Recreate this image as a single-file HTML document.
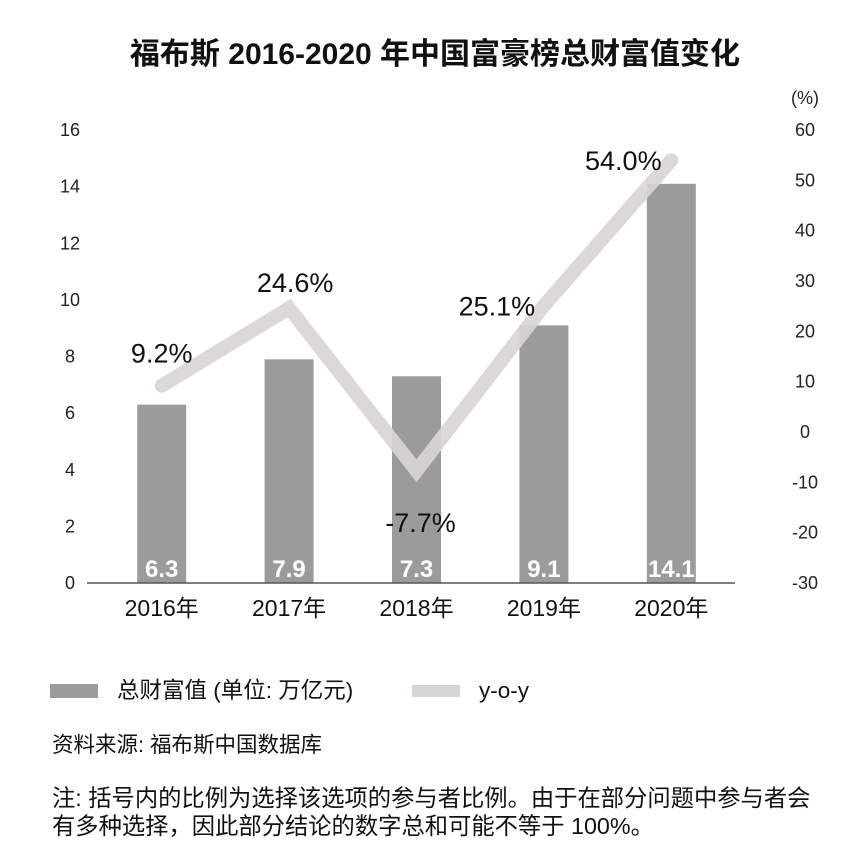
<!DOCTYPE html>
<html><head><meta charset="utf-8"><style>
body{margin:0;background:#fff;width:856px;height:850px;overflow:hidden;font-family:"Liberation Sans","Noto Sans CJK SC",sans-serif;}
</style></head><body>
<svg width="856" height="850" id="c" font-family="Liberation Sans, Noto Sans CJK SC, sans-serif">
<text x="435" y="64" text-anchor="middle" font-size="30" font-weight="bold" fill="#111">福布斯 2016-2020 年中国富豪榜总财富值变化</text>
<text x="805" y="104" text-anchor="middle" font-size="18" fill="#222">(%)</text>
<g id="g"></g>
<rect x="50" y="684" width="48" height="14" fill="#9b9b9b"/>
<text x="117" y="698" font-size="22.5" fill="#111">总财富值 (单位: 万亿元)</text>
<line x1="412" y1="691" x2="460" y2="691" stroke="#d9d4d6" stroke-width="12"/>
<text x="479" y="698" font-size="22.5" fill="#111">y-o-y</text>
<text x="52" y="752" font-size="21.5" fill="#111">资料来源: 福布斯中国数据库</text>
<text x="52" y="806" font-size="23.3" fill="#111">注: 括号内的比例为选择该选项的参与者比例。由于在部分问题中参与者会</text>
<text x="52" y="834" font-size="23.3" fill="#111">有多种选择，因此部分结论的数字总和可能不等于 100%。</text>
</svg>
<script>
const categories=["2016年","2017年","2018年","2019年","2020年"];
const wealth=[6.3,7.9,7.3,9.1,14.1];
const yoy=[9.2,24.6,-7.7,25.1,54.0];
const leftTicks=[0,2,4,6,8,10,12,14,16];
const rightTicks=[-30,-20,-10,0,10,20,30,40,50,60];
const NS="http://www.w3.org/2000/svg";
const g=document.getElementById('g');
const y0=583,y1=130,x0=98,x1=735;
const yL=v=>y0-(v/16)*(y0-y1);
const yR=v=>y0-((v+30)/90)*(y0-y1);
const bw=(x1-x0)/categories.length;
const xc=i=>x0+bw*(i+0.5);
function mk(t,a){const e=document.createElementNS(NS,t);for(const k in a)e.setAttribute(k,a[k]);g.appendChild(e);return e;}
leftTicks.forEach(v=>{const t=mk('text',{x:70,y:yL(v)+6,'text-anchor':'middle','font-size':18,fill:'#222'});t.textContent=v;

});
rightTicks.forEach(v=>{const t=mk('text',{x:805,y:yR(v)+6,'text-anchor':'middle','font-size':18,fill:'#222'});t.textContent=v;

});
wealth.forEach((v,i)=>{const r=mk('rect',{x:xc(i)-24.5,y:yL(v),width:49,height:y0-yL(v),fill:'#9b9b9b'});


const t=mk('text',{x:xc(i),y:y0-6,'text-anchor':'middle','font-size':24,'font-weight':'bold',fill:'#fff'});t.textContent=v.toFixed(1);


const c=mk('text',{x:xc(i),y:y0+33,'text-anchor':'middle','font-size':23,fill:'#111'});c.textContent=categories[i];

});
const ax=mk('line',{x1:87,y1:y0,x2:x1,y2:y0,stroke:'#555','stroke-width':1.5});


const pl=mk('polyline',{points:yoy.map((v,i)=>xc(i)+','+yR(v)).join(' '),fill:'none',stroke:'#d9d4d6','stroke-width':14,'stroke-linecap':'round','stroke-linejoin':'miter','stroke-opacity':0.92});


const off=[[0,-23],[6,-16],[4,61],[-47,10],[-48,10]];
yoy.forEach((v,i)=>{const t=mk('text',{x:xc(i)+off[i][0],y:yR(v)+off[i][1],'text-anchor':'middle','font-size':27,fill:'#111'});t.textContent=v.toFixed(1)+'%';

});
</script>
</body></html>
